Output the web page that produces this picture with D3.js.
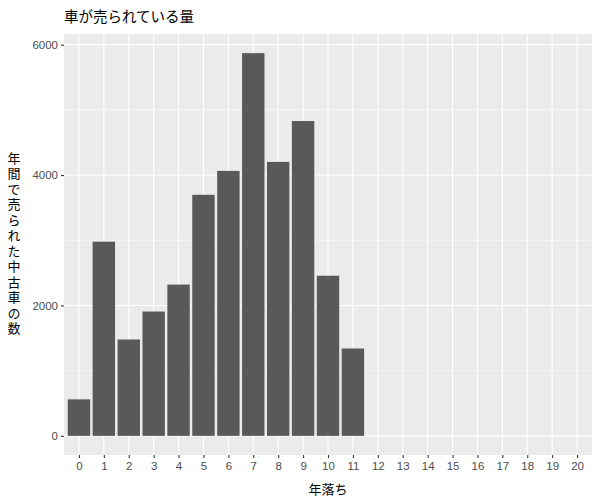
<!DOCTYPE html>
<html><head><meta charset="utf-8">
<script src="https://cdn.jsdelivr.net/npm/d3@7"></script>
<style>body{margin:0;background:#fff}svg{display:block}</style>
</head><body><svg id="c" width="600" height="500"></svg>
<script>
const categories = d3.range(0, 21).map(String);
const counts = [560, 2978, 1478, 1907, 2320, 3697, 4064, 5870, 4202, 4829, 2456, 1340];
const yTicks = [0, 2000, 4000, 6000];
const yMinor = [1000, 3000, 5000];
const title = "車が売られている量";
const xTitle = "年落ち";
const yTitle = "年間で売られた中古車の数";

const data = counts.map((v, i) => ({cat: categories[i], v}));
const svg = d3.select("#c");
const L = 64, R = 592, T = 34, B = 455;
const font = "'Noto Sans CJK JP','Noto Sans',sans-serif";
// ggplot-style discrete scale: expand 0.6 units each side, bar width 0.9
const step = (R - L) / (categories.length - 1 + 1.2);
const x = d3.scalePoint().domain(categories).range([L + step * 0.6, R - step * 0.6]);
const maxV = d3.max(counts);
const y = d3.scaleLinear().domain([-0.05 * maxV, 1.05 * maxV]).range([B, T]);

svg.append("rect").attr("x", L).attr("y", T).attr("width", R - L).attr("height", B - T).attr("fill", "#EBEBEB");
svg.append("g").selectAll("line").data(yMinor).join("line")
  .attr("x1", L).attr("x2", R).attr("y1", d => y(d)).attr("y2", d => y(d))
  .attr("stroke", "#fff").attr("stroke-width", 0.55);
svg.append("g").selectAll("line").data(yTicks).join("line")
  .attr("x1", L).attr("x2", R).attr("y1", d => y(d)).attr("y2", d => y(d))
  .attr("stroke", "#fff").attr("stroke-width", 1.1);
svg.append("g").selectAll("line").data(categories).join("line")
  .attr("x1", d => x(d)).attr("x2", d => x(d)).attr("y1", T).attr("y2", B)
  .attr("stroke", "#fff").attr("stroke-width", 1.1);

svg.append("g").selectAll("rect").data(data).join("rect")
  .attr("x", d => x(d.cat) - step * 0.45).attr("width", step * 0.9)
  .attr("y", d => y(d.v)).attr("height", d => y(0) - y(d.v))
  .attr("fill", "#595959");

const yAxis = svg.append("g").attr("transform", `translate(${L},0)`)
  .call(d3.axisLeft(y).tickValues(yTicks).tickSize(3).tickPadding(3).tickFormat(d3.format("d")));
const xAxis = svg.append("g").attr("transform", `translate(0,${B})`)
  .call(d3.axisBottom(x).tickSize(3).tickPadding(4));
[yAxis, xAxis].forEach(a => {
  a.select(".domain").remove();
  a.selectAll(".tick line").attr("stroke", "#333").attr("stroke-width", 1.1);
  a.selectAll(".tick text").attr("fill", "#4D4D4D").style("font-family", "Arial, 'Liberation Sans', sans-serif").style("font-size", "11.5px");
});

svg.append("text").attr("x", L).attr("y", 22).text(title)
  .style("font-family", font).style("font-size", "14.5px").attr("fill", "#000");
svg.append("text").attr("x", (L + R) / 2).attr("y", 494).attr("text-anchor", "middle").text(xTitle)
  .style("font-family", font).style("font-size", "13px").attr("fill", "#000");
svg.append("text").attr("x", 14).attr("y", (T + B) / 2)
  .attr("text-anchor", "middle")
  .style("writing-mode", "vertical-rl").style("text-orientation", "upright")
  .style("letter-spacing", "2.5px")
  .style("font-family", font).style("font-size", "13px").attr("fill", "#000")
  .text(yTitle);
</script></body></html>
